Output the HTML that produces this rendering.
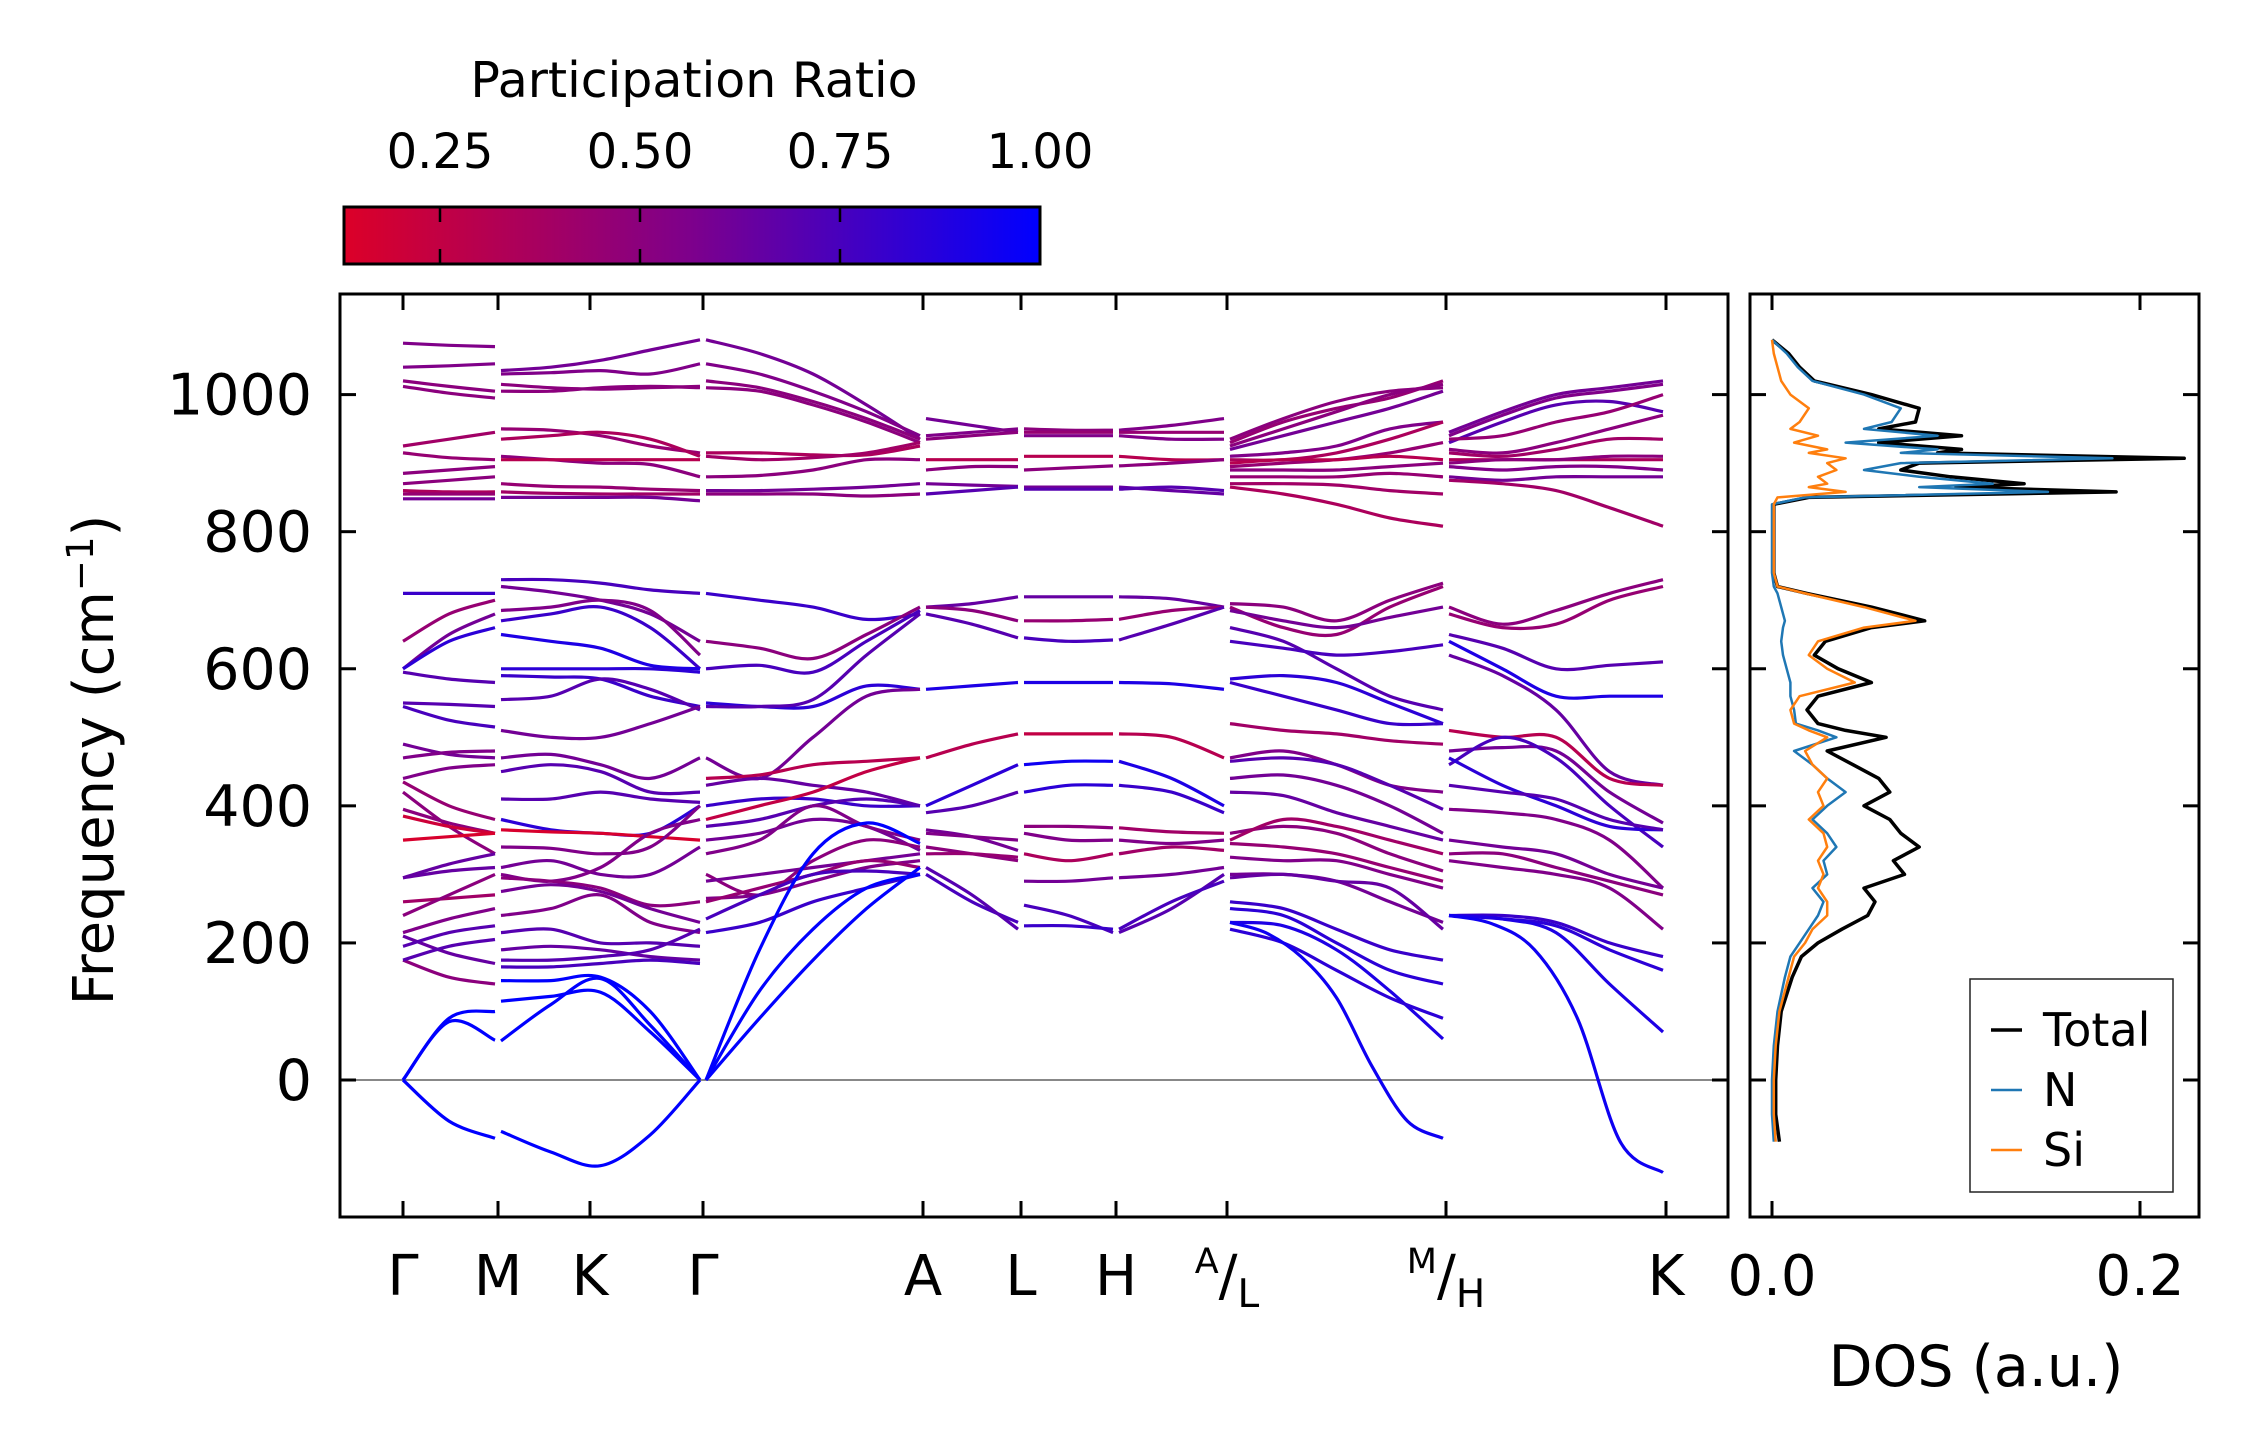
<!DOCTYPE html>
<html><head><meta charset="utf-8"><style>
html,body{margin:0;padding:0;background:#fff}
svg{display:block}
text{font-family:"DejaVu Sans","Liberation Sans",sans-serif;fill:#000}
</style></head><body>
<svg id="fig" width="2259" height="1455" viewBox="0 0 2259 1455" xmlns="http://www.w3.org/2000/svg">
<defs>
<linearGradient id="cbar" x1="0" x2="1" y1="0" y2="0">
<stop offset="0" stop-color="rgb(220,0,40)"/><stop offset="0.5" stop-color="rgb(125,0,140)"/><stop offset="1" stop-color="rgb(0,0,255)"/>
</linearGradient>
<clipPath id="clipMain"><rect x="340" y="294" width="1388" height="923"/></clipPath>
<clipPath id="clipDos"><rect x="1750" y="294" width="449" height="923"/></clipPath>
</defs>
<g id="colorbar">
<text x="694" y="97" font-size="49" text-anchor="middle">Participation Ratio</text>
<rect x="344" y="207" width="696" height="57" fill="url(#cbar)" stroke="#000" stroke-width="3"/>
</g>
<g id="main"></g>
<g id="dos"></g>
</svg>
<script>
const NS='http://www.w3.org/2000/svg';
const cbTicks=[0.25,0.5,0.75,1.0];
const cbLabels=['0.25','0.50','0.75','1.00'];
const yTicks=[0,200,400,600,800,1000];
const kLabels=['Γ','M','K','Γ','A','L','H','A/L','M/H','K'];
const kDist=[0,0.95,1.87,3.0,5.2,6.18,7.13,8.24,10.43,12.63];
const dosTicks=[0.0,0.2];
const dosTickLabels=['0.0','0.2'];

const seg1=[[1075,1072,1070],[1040,1042,1045],[1020,1012,1005],[1012,1002,995],[925,935,945],[915,908,905],[885,890,895],[870,875,880],[860,858,858],[855,855,855],[848,848,848],[710,710,710],[640,680,700],[600,650,680],[600,640,660],[595,585,580],[550,548,545],[545,525,515],[490,475,470],[470,478,480],[440,455,460],[435,400,380],[420,370,330],[395,375,360],[385,370,360],[350,355,360],[295,305,310],[295,315,330],[260,265,270],[240,270,300],[215,235,250],[210,185,170],[195,215,225],[175,150,140],[175,195,205],[0,90,100],[0,85,58],[0,-60,-85]];
const pr1=[0.55,0.55,0.5,0.5,0.4,0.45,0.5,0.5,0.35,0.45,0.6,0.8,0.45,0.6,0.85,0.7,0.7,0.75,0.6,0.55,0.55,0.45,0.5,0.5,0.2,0.15,0.65,0.65,0.4,0.5,0.55,0.65,0.7,0.5,0.7,1,1,1];
const seg2=[[1035,1040,1050,1065,1080],[1030,1032,1035,1030,1045],[1015,1010,1008,1010,1012],[1005,1005,1010,1012,1010],[950,948,940,925,915],[935,940,945,935,910],[910,905,900,898,880],[905,905,905,905,905],[870,866,865,862,860],[858,856,855,855,855],[850,850,850,850,845],[730,730,725,715,710],[720,712,700,680,640],[685,690,700,685,620],[670,680,690,660,600],[650,640,630,605,600],[600,600,600,600,595],[590,588,585,560,545],[555,560,585,570,540],[510,500,500,520,545],[470,475,460,440,470],[450,460,450,420,420],[410,410,420,410,405],[380,365,360,360,400],[365,362,360,355,350],[340,338,330,340,400],[310,320,300,300,340],[300,290,310,360,380],[295,290,280,255,260],[275,285,275,250,230],[240,250,270,230,215],[215,220,200,200,195],[190,195,190,180,175],[175,175,180,190,220],[165,165,170,175,170],[145,145,150,100,0],[57,110,148,80,0],[115,122,128,70,0],[-75,-105,-125,-80,0]];
const pr2=[0.6,0.55,0.5,0.5,0.45,0.35,0.5,0.3,0.45,0.4,0.6,0.75,0.6,0.55,0.8,0.9,0.85,0.8,0.7,0.6,0.6,0.7,0.7,0.85,0.15,0.55,0.6,0.55,0.5,0.6,0.55,0.7,0.65,0.7,0.75,1,1,1,1];
const seg3=[[1080,1060,1030,985,935],[1045,1030,1005,975,940],[1020,1010,990,965,935],[1010,1005,985,960,930],[915,915,912,912,925],[910,905,908,915,930],[880,882,890,905,905],[860,860,862,865,870],[855,855,855,852,855],[710,700,690,672,680],[640,630,615,650,690],[600,605,595,640,685],[550,545,545,575,570],[545,545,555,620,680],[470,440,500,560,570],[440,445,460,465,470],[430,440,430,420,400],[400,410,410,400,400],[380,400,420,450,470],[370,380,400,410,400],[350,360,380,370,335],[330,350,400,370,350],[300,270,320,350,340],[290,300,310,320,330],[265,270,290,310,320],[260,280,300,320,310],[235,270,300,305,300],[215,230,260,280,300],[0,190,330,375,345],[0,90,175,250,310],[0,130,220,280,300]];
const pr3=[0.6,0.55,0.5,0.5,0.35,0.4,0.5,0.6,0.5,0.8,0.5,0.75,0.85,0.7,0.6,0.3,0.65,0.8,0.25,0.7,0.6,0.55,0.5,0.6,0.55,0.45,0.75,0.8,1,1,1];
const seg4=[[965,955,945],[940,945,950],[935,940,945],[905,905,905],[890,895,895],[870,868,866],[855,860,865],[690,695,705],[690,685,670],[680,665,645],[570,575,580],[470,490,505],[400,430,460],[390,400,420],[365,355,335],[360,355,350],[340,330,320],[330,330,325],[300,260,230],[310,270,220]];
const pr4=[0.6,0.55,0.5,0.3,0.5,0.6,0.7,0.65,0.5,0.7,0.9,0.3,0.85,0.7,0.6,0.55,0.5,0.45,0.75,0.7];
const seg5=[[950,948,948],[945,945,945],[940,940,940],[910,910,910],[890,893,896],[865,865,865],[862,862,862],[705,705,705],[670,670,672],[645,640,642],[580,580,580],[505,505,505],[460,465,465],[420,430,430],[370,370,368],[360,350,350],[330,320,330],[290,290,295],[255,240,215],[225,225,220]];
const pr5=[0.5,0.45,0.55,0.3,0.5,0.6,0.7,0.65,0.45,0.75,0.9,0.25,0.95,0.85,0.5,0.55,0.35,0.6,0.75,0.8];
const seg6=[[948,955,965],[945,945,945],[940,935,935],[910,905,905],[896,900,905],[865,860,855],[862,865,860],[705,702,690],[672,685,690],[642,665,690],[580,578,570],[505,500,470],[465,440,400],[430,420,390],[368,362,360],[350,345,350],[330,340,335],[295,300,310],[215,250,300],[220,260,290]];
const pr6=[0.55,0.45,0.55,0.3,0.5,0.65,0.7,0.65,0.45,0.7,0.9,0.3,0.9,0.8,0.4,0.55,0.4,0.6,0.7,0.75];
const seg7=[[935,965,990,1005,1010],[930,960,980,995,1020],[925,950,975,1000,1015],[920,940,960,980,1005],[910,915,925,950,960],[905,905,915,935,960],[895,900,905,915,930],[900,905,905,910,905],[890,890,890,895,900],[880,880,880,885,880],[870,870,868,860,855],[865,855,840,820,808],[695,690,670,700,725],[690,660,650,690,720],[685,670,660,675,690],[660,640,600,560,540],[640,630,620,625,635],[585,590,580,550,520],[580,560,540,520,520],[520,510,505,495,490],[470,480,460,430,420],[465,470,460,430,395],[440,445,430,400,360],[420,415,390,370,350],[360,370,360,330,305],[350,380,370,350,330],[345,340,330,310,290],[325,320,320,300,280],[300,300,290,260,230],[295,300,290,280,220],[260,250,220,190,175],[250,240,200,160,140],[230,225,190,130,60],[220,200,160,120,90],[230,215,180,120,20,-60,-85]];
const pr7=[0.5,0.45,0.5,0.6,0.55,0.35,0.45,0.3,0.5,0.45,0.4,0.35,0.5,0.45,0.6,0.7,0.75,0.85,0.8,0.4,0.55,0.7,0.6,0.65,0.5,0.4,0.45,0.55,0.6,0.65,0.8,0.85,0.9,0.85,0.95];
const seg8=[[945,975,1000,1010,1020],[940,970,995,1005,1015],[930,960,985,990,975],[935,940,960,975,1000],[920,915,930,950,970],[915,910,920,935,935],[905,905,905,905,905],[900,905,905,910,910],[895,890,895,895,890],[880,875,880,880,880],[875,870,860,835,808],[690,665,685,710,730],[680,660,665,700,720],[650,630,600,605,610],[640,600,560,560,560],[620,590,540,450,430],[510,500,500,440,430],[480,485,480,420,375],[460,500,470,400,340],[470,430,400,370,365],[430,420,410,380,365],[395,390,380,350,280],[350,340,330,300,280],[330,330,310,290,270],[320,310,300,280,220],[240,240,230,200,180],[240,235,225,190,160],[240,235,215,140,70],[240,228,190,90,-90,-135]];
const pr8=[0.6,0.55,0.7,0.45,0.5,0.4,0.35,0.5,0.55,0.6,0.4,0.5,0.45,0.7,0.9,0.65,0.3,0.6,0.75,0.85,0.7,0.55,0.6,0.5,0.55,0.8,0.85,0.9,0.95];

const segFrom=[0,1,3,4,5,6,7,8];
const segTo=[1,3,4,5,6,7,8,9];
const segBands=[seg1,seg2,seg3,seg4,seg5,seg6,seg7,seg8];
const segPR=[pr1,pr2,pr3,pr4,pr5,pr6,pr7,pr8];

const dosFreq=[-90,-50,0,50,100,150,180,200,220,240,260,280,300,320,340,360,380,400,420,440,460,480,500,510,520,540,560,580,600,620,640,660,670,690,710,720,740,840,850,858,865,870,880,890,900,907,915,920,930,940,950,960,980,1000,1020,1040,1060,1080];
const dosTotal=[0.004,0.002,0.002,0.003,0.005,0.011,0.016,0.025,0.038,0.052,0.056,0.050,0.072,0.066,0.080,0.070,0.064,0.050,0.064,0.058,0.044,0.030,0.062,0.040,0.025,0.019,0.025,0.054,0.036,0.023,0.029,0.054,0.083,0.054,0.019,0.003,0.001,0.001,0.02,0.187,0.10,0.137,0.097,0.07,0.08,0.224,0.09,0.103,0.058,0.103,0.058,0.078,0.080,0.054,0.023,0.015,0.009,0.0];
const dosN=[0.001,0,0,0.001,0.003,0.007,0.010,0.015,0.020,0.025,0.028,0.022,0.030,0.028,0.035,0.030,0.022,0.030,0.040,0.030,0.022,0.012,0.035,0.025,0.013,0.012,0.010,0.010,0.008,0.006,0.005,0.006,0.007,0.005,0.003,0.001,0,0,0.018,0.15,0.08,0.12,0.08,0.05,0.07,0.185,0.07,0.09,0.04,0.09,0.05,0.065,0.070,0.050,0.022,0.014,0.008,0.0];
const dosSi=[0.002,0.001,0.001,0.002,0.004,0.009,0.012,0.018,0.022,0.030,0.030,0.025,0.028,0.025,0.030,0.028,0.020,0.028,0.025,0.030,0.022,0.018,0.030,0.020,0.012,0.010,0.015,0.045,0.030,0.020,0.025,0.050,0.078,0.050,0.018,0.003,0.001,0.001,0.003,0.040,0.020,0.030,0.025,0.035,0.030,0.040,0.020,0.030,0.012,0.025,0.010,0.015,0.020,0.010,0.005,0.003,0.001,0.0];

const M={l:340,r:1728,t:294,b:1217};
const D={l:1750,r:2199};
const yS=f=>1080-f*0.6854;
const kx0=403,kx1=1666;
const xS=k=>kx0+(k-kDist[0])/(kDist[kDist.length-1]-kDist[0])*(kx1-kx0);
const dS=v=>1772+v*1840;
const cbS=v=>344+(v-0.13)/(1-0.13)*696;
function prColor(p){const t=Math.max(0,Math.min(1,(p-0.13)/0.87));
 let r,b;if(t<0.5){r=220+(125-220)*t*2;b=40+(140-40)*t*2;}else{r=125*(1-(t-0.5)*2);b=140+(255-140)*(t-0.5)*2;}
 return `rgb(${Math.round(r)},0,${Math.round(b)})`;}
function el(tag,attrs,parent){const e=document.createElementNS(NS,tag);for(const k in attrs)e.setAttribute(k,attrs[k]);parent.appendChild(e);return e;}
function smooth(pts){let d=`M${pts[0][0].toFixed(1)},${pts[0][1].toFixed(1)}`;
 for(let i=0;i<pts.length-1;i++){const p0=pts[Math.max(0,i-1)],p1=pts[i],p2=pts[i+1],p3=pts[Math.min(pts.length-1,i+2)];
  const c1=[p1[0]+(p2[0]-p0[0])/6,p1[1]+(p2[1]-p0[1])/6],c2=[p2[0]-(p3[0]-p1[0])/6,p2[1]-(p3[1]-p1[1])/6];
  d+=`C${c1[0].toFixed(1)},${c1[1].toFixed(1)} ${c2[0].toFixed(1)},${c2[1].toFixed(1)} ${p2[0].toFixed(1)},${p2[1].toFixed(1)}`;}
 return d;}

const cb=document.getElementById('colorbar');
cbTicks.forEach((v,i)=>{const x=cbS(v);
 if(v<1){const a=el('line',{x1:x,x2:x,y1:207,y2:222,stroke:'#000','stroke-width':2.5},cb);
 
 
 const b=el('line',{x1:x,x2:x,y1:249,y2:264,stroke:'#000','stroke-width':2.5},cb);
 
 }
 const t=el('text',{x:x,y:168,'font-size':48,'text-anchor':'middle'},cb);t.textContent=cbLabels[i];
 
 
});

const g=document.getElementById('main');
const zl=el('line',{x1:M.l,x2:M.r,y1:yS(0),y2:yS(0),stroke:'#888','stroke-width':2},g);


const bandsG=el('g',{'clip-path':'url(#clipMain)'},g);


segBands.forEach((bands,s)=>{const xa=xS(kDist[segFrom[s]])+(s>0?3:0),xb=xS(kDist[segTo[s]])-3;
 bands.forEach((vals,j)=>{const n=vals.length;const pts=vals.map((v,i)=>[xa+(xb-xa)*i/(n-1),yS(v)]);
  const p=el('path',{d:smooth(pts),fill:'none',stroke:prColor(segPR[s][j]),'stroke-width':3.2,'stroke-linecap':'butt'},bandsG);
  
  });});
const frame=el('rect',{x:M.l,y:M.t,width:M.r-M.l,height:M.b-M.t,fill:'none',stroke:'#000','stroke-width':3},g);


yTicks.forEach(v=>{const y=yS(v);
 const a=el('line',{x1:M.l,x2:M.l+16,y1:y,y2:y,stroke:'#000','stroke-width':3},g);
 
 
 const b=el('line',{x1:M.r-16,x2:M.r,y1:y,y2:y,stroke:'#000','stroke-width':3},g);
 
 
 const t=el('text',{x:312,y:y+20,'font-size':57,'text-anchor':'end'},g);t.textContent=String(v);
 
 });
kDist.forEach((k,i)=>{const x=xS(k);
 const a=el('line',{x1:x,x2:x,y1:M.b-16,y2:M.b,stroke:'#000','stroke-width':3},g);
 
 
 const b=el('line',{x1:x,x2:x,y1:M.t,y2:M.t+16,stroke:'#000','stroke-width':3},g);
 
 
 const lab=kLabels[i];let t;
 if(lab.includes('/')){const [a1,b1]=lab.split('/');
  t=el('text',{x:x,y:1295,'font-size':56,'text-anchor':'middle'},g);
  t.innerHTML=`<tspan font-size="35" dy="-22">${a1}</tspan><tspan dy="22">/</tspan><tspan font-size="39" dy="12">${b1}</tspan>`;
 } else {t=el('text',{x:x,y:1295,'font-size':56,'text-anchor':'middle'},g);t.textContent=lab;}
 
 });
const yl=el('text',{x:0,y:0,'font-size':56,'text-anchor':'middle',transform:'translate(113,760) rotate(-90)'},g);
yl.innerHTML='Frequency (cm<tspan font-size="37" dy="-20">−1</tspan><tspan dy="20">)</tspan>';



const dg=document.getElementById('dos');
const dl=el('g',{'clip-path':'url(#clipDos)'},dg);


[[dosTotal,'#000',3.5,'dos-total-line'],[dosN,'#1f77b4',2.5,'dos-n-line'],[dosSi,'#ff7f0e',2.5,'dos-si-line']].forEach(([arr,c,w,nm])=>{
 const d='M'+arr.map((v,i)=>dS(v).toFixed(1)+','+yS(dosFreq[i]).toFixed(1)).join('L');
 const p=el('path',{d:d,fill:'none',stroke:c,'stroke-width':w,'stroke-linejoin':'round'},dl);
 
 });
const df=el('rect',{x:D.l,y:M.t,width:D.r-D.l,height:M.b-M.t,fill:'none',stroke:'#000','stroke-width':3},dg);


yTicks.forEach(v=>{const y=yS(v);
 const a=el('line',{x1:D.l,x2:D.l+16,y1:y,y2:y,stroke:'#000','stroke-width':3},dg);
 
 
 const b=el('line',{x1:D.r-16,x2:D.r,y1:y,y2:y,stroke:'#000','stroke-width':3},dg);
 
 });
dosTicks.forEach((v,i)=>{const x=dS(v);
 const a=el('line',{x1:x,x2:x,y1:M.b-16,y2:M.b,stroke:'#000','stroke-width':3},dg);
 
 
 const b=el('line',{x1:x,x2:x,y1:M.t,y2:M.t+16,stroke:'#000','stroke-width':3},dg);
 
 
 const t=el('text',{x:x,y:1295,'font-size':56,'text-anchor':'middle'},dg);t.textContent=dosTickLabels[i];
 
 });
const dt=el('text',{x:1976,y:1386,'font-size':57,'text-anchor':'middle'},dg);dt.textContent='DOS (a.u.)';


const lg=el('g',{},dg);


el('rect',{x:1970,y:979,width:203,height:213,fill:'#fff',stroke:'#222','stroke-width':1.5},lg);
[['Total','#000',3.5],['N','#1f77b4',2.5],['Si','#ff7f0e',2.5]].forEach(([n,c,w],i)=>{const y=1030+i*60;
 const ln=el('line',{x1:1991,x2:2022,y1:y,y2:y,stroke:c,'stroke-width':w},lg);
 
 
 const t=el('text',{x:2043,y:y+16,'font-size':46},lg);t.textContent=n;
 
 });
</script>
</body></html>
